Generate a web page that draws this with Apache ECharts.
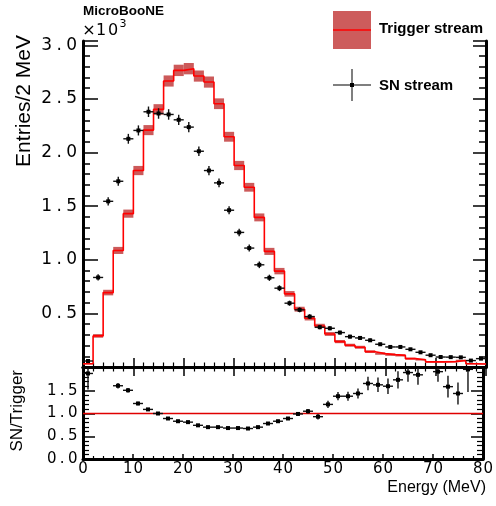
<!DOCTYPE html>
<html>
<head>
<meta charset="utf-8">
<script src="https://cdn.jsdelivr.net/npm/echarts@6/dist/echarts.min.js"></script>
<style>
  html, body { margin: 0; padding: 0; background: #fff; }
  #chart { width: 496px; height: 506px; }
</style>
</head>
<body>
<div id="chart"></div>
<script>
// 2 MeV bins, low edges
var binLow = [0, 2, 4, 6, 8, 10, 12, 14, 16, 18, 20, 22, 24, 26, 28, 30, 32, 34, 36, 38,
  40, 42, 44, 46, 48, 50, 52, 54, 56, 58, 60, 62, 64, 66, 68, 70, 72, 74, 76, 78];
var binWidth = 2;

var triggerCounts = [30, 290, 694, 1087, 1430, 1832, 2209, 2402, 2667, 2766, 2782, 2713, 2657, 2455, 2147, 1879, 1676, 1395, 1078, 894,
  682, 539, 455, 383, 308, 237, 203, 184, 143, 125, 115, 108, 78, 68, 48, 48, 50, 60, 30, 28];
var triggerErrors = [6, 17, 26, 33, 38, 43, 47, 49, 52, 53, 53, 52, 52, 50, 46, 43, 41, 37, 33, 30,
  26, 23, 21, 20, 18, 15, 14, 14, 12, 11, 11, 10, 9, 8, 7, 7, 7, 8, 6, 5];

var snCounts = [56, 835, 1545, 1732, 2128, 2206, 2380, 2364, 2355, 2305, 2237, 2012, 1832, 1717, 1462, 1255, 1109, 953, 832, 735,
  595, 533, 470, 371, 361, 321, 283, 271, 249, 212, 187, 187, 165, 137, 110, 93, 92, 90, 60, 78];
var snErrors = [7, 29, 39, 42, 46, 47, 49, 49, 49, 48, 47, 45, 43, 41, 38, 35, 33, 31, 29, 27,
  24, 23, 22, 19, 19, 18, 17, 16, 16, 15, 14, 14, 13, 12, 10, 10, 10, 9, 8, 9];

var ratio = [1.88, 2.88, 2.23, 1.61, 1.51, 1.22, 1.09, 1.00, 0.89, 0.83, 0.81, 0.74, 0.70, 0.70, 0.68, 0.68, 0.67, 0.70, 0.78, 0.83,
  0.89, 0.99, 1.05, 0.93, 1.20, 1.38, 1.38, 1.44, 1.66, 1.63, 1.60, 1.74, 1.90, 1.85, 2.35, 1.92, 1.59, 1.44, 1.97, 2.80];
var ratioErrors = [0.35, 0.12, 0.07, 0.06, 0.05, 0.04, 0.03, 0.03, 0.03, 0.03, 0.03, 0.03, 0.03, 0.03, 0.03, 0.03, 0.03, 0.03, 0.03, 0.03,
  0.03, 0.04, 0.05, 0.06, 0.08, 0.09, 0.10, 0.11, 0.15, 0.16, 0.17, 0.19, 0.20, 0.22, 0.30, 0.22, 0.24, 0.24, 0.50, 0.60];

// SN/Trigger = 1 reference line
var unityLine = [[0, 1], [80, 1]];

var monoFont = 'DejaVu Sans';
var sansFont = 'Liberation Sans, Arial, sans-serif';

function cells(s) {
  return s.split('').map(function (ch) { return '{c|' + ch + '}'; }).join('');
}

// histogram step line, band and point tables
var stepData = binLow.map(function (x, i) { return [x, triggerCounts[i]]; });
stepData.push([binLow[binLow.length - 1] + binWidth, triggerCounts[triggerCounts.length - 1]]);
var bandData = binLow.map(function (x, i) { return [x, x + binWidth, triggerCounts[i], triggerErrors[i]]; });
var snData = binLow.map(function (x, i) { return [x + binWidth / 2, snCounts[i], snErrors[i]]; });
var ratioData = binLow.map(function (x, i) { return [x + binWidth / 2, ratio[i], ratioErrors[i]]; });

function bandItem(params, api) {
  var p0 = api.coord([api.value(0), api.value(2) + api.value(3)]);
  var p1 = api.coord([api.value(1), api.value(2) - api.value(3)]);
  return {
    type: 'rect',
    shape: { x: p0[0], y: p0[1], width: p1[0] - p0[0], height: p1[1] - p0[1] },
    style: { fill: '#cc5a5a' }
  };
}

function crossItem(params, api) {
  var x = api.value(0), y = api.value(1), e = api.value(2);
  var c = api.coord([x, y]);
  var l = api.coord([x - binWidth / 2, y]);
  var r = api.coord([x + binWidth / 2, y]);
  var t = api.coord([x, y + e]);
  var b = api.coord([x, y - e]);
  var st = { stroke: '#111', lineWidth: 1.4 };
  return {
    type: 'group',
    children: [
      { type: 'line', shape: { x1: l[0], y1: c[1], x2: r[0], y2: c[1] }, style: st },
      { type: 'line', shape: { x1: c[0], y1: t[1], x2: c[0], y2: b[1] }, style: st },
      { type: 'rect', shape: { x: c[0] - 2, y: c[1] - 2, width: 4, height: 4 }, style: { fill: '#000' } }
    ]
  };
}

var frame = { show: true, lineStyle: { color: '#000', width: 3 } };
var noLine = { show: false };

function xAx(grid, pos, tickLen, minorLen, labels) {
  return {
    type: 'value', gridIndex: grid, position: pos, min: 0, max: 80, interval: 10,
    axisLine: frame,
    axisTick: { show: true, inside: true, length: tickLen, lineStyle: { color: '#000', width: 1.5 } },
    minorTick: { show: true, splitNumber: 5, length: minorLen, lineStyle: { color: '#000', width: 1.2 } },
    splitLine: { show: false },
    axisLabel: labels ? {
      show: true, margin: 3,
      formatter: function (v) { return cells(String(v)); },
      rich: { c: { width: 10.5, align: 'center', fontSize: 15, fontFamily: monoFont, color: '#000' } }
    } : { show: false }
  };
}

function yUpper(pos, interval, tickLen, labels, line) {
  return {
    type: 'value', gridIndex: 0, position: pos, min: 0, max: 3040, interval: interval,
    axisLine: line ? frame : noLine,
    axisTick: { show: true, inside: true, length: tickLen, lineStyle: { color: '#000', width: 1.5 } },
    splitLine: { show: false },
    axisLabel: labels ? {
      show: true, margin: 5,
      formatter: function (v) {
        if (v <= 0 || v > 3000 || v % 500 !== 0) return '';
        return cells((v / 1000).toFixed(1));
      },
      rich: { c: { width: 12.5, align: 'center', fontSize: 17, fontFamily: monoFont, color: '#000' } }
    } : { show: false }
  };
}

function yLower(pos, labels) {
  return {
    type: 'value', gridIndex: 1, position: pos, min: 0, max: 2, interval: 0.5,
    axisLine: frame,
    axisTick: { show: true, inside: true, length: 12, lineStyle: { color: '#000', width: 1.5 } },
    minorTick: { show: true, splitNumber: 5, length: 6, lineStyle: { color: '#000', width: 1.2 } },
    splitLine: { show: false },
    axisLabel: labels ? {
      show: true, margin: 5,
      formatter: function (v) { return v >= 2 ? '' : cells(v.toFixed(1)); },
      rich: { c: { width: 10.5, align: 'center', fontSize: 15, fontFamily: monoFont, color: '#000' } }
    } : { show: false }
  };
}

var chart = echarts.init(document.getElementById('chart'), null, { renderer: 'canvas' });

var chartSettings = {
  animation: false,
  backgroundColor: '#fff',
  grid: [
    { left: 83, right: 10, top: 41, height: 326 },
    { left: 83, right: 10, top: 368, height: 91 }
  ],
  xAxis: [
    xAx(0, 'bottom', 9, 4.5, false),
    xAx(0, 'top', 9, 4.5, false),
    xAx(1, 'bottom', 5, 3, true)
  ],
  yAxis: [
    yUpper('left', 500, 15, true, true),
    yUpper('left', 100, 7, false, false),
    yUpper('right', 500, 13, false, true),
    yUpper('right', 100, 7, false, false),
    yLower('left', true),
    yLower('right', false)
  ],
  series: [
    {
      name: 'Trigger stream band', type: 'custom', xAxisIndex: 0, yAxisIndex: 0,
      renderItem: bandItem, encode: { x: [0, 1], y: 2 }, data: bandData, z: 2
    },
    {
      name: 'Trigger stream', type: 'line', xAxisIndex: 0, yAxisIndex: 0, step: 'end',
      symbol: 'none', color: '#ff0000', lineStyle: { color: '#ff0000', width: 1.6 }, data: stepData, z: 3
    },
    {
      name: 'SN stream', type: 'custom', xAxisIndex: 0, yAxisIndex: 0,
      renderItem: crossItem, encode: { x: 0, y: 1 }, data: snData, z: 4
    },
    {
      name: 'Unity', type: 'line', xAxisIndex: 2, yAxisIndex: 4, symbol: 'none', silent: true,
      color: '#e00000', itemStyle: { color: '#e00000' },
      lineStyle: { color: '#e00000', width: 1.3, opacity: 1 }, data: unityLine, z: 3
    },
    {
      name: 'SN/Trigger', type: 'custom', xAxisIndex: 2, yAxisIndex: 4, clip: true,
      renderItem: crossItem, encode: { x: 0, y: 1 }, data: ratioData, z: 4
    }
  ],
  graphic: [
    { type: 'text', left: 83, top: 4, style: { text: 'MicroBooNE', font: 'bold 13.5px ' + sansFont, fill: '#000' } },
    {
      type: 'text', x: 83, y: 31,
      style: {
        text: cells('×10'), textVerticalAlign: 'middle', fill: '#000',
        rich: { c: { width: 12, align: 'center', fontSize: 16, fontFamily: monoFont, color: '#000' } }
      }
    },
    { type: 'text', x: 123, y: 24, style: { text: '3', textAlign: 'center', textVerticalAlign: 'middle', font: '11px ' + monoFont, fill: '#000' } },
    {
      type: 'text', x: 24, y: 35, rotation: Math.PI / 2,
      style: { text: 'Entries/2 MeV', textAlign: 'right', textVerticalAlign: 'middle', font: '21px ' + sansFont, fill: '#000' }
    },
    {
      type: 'text', x: 17, y: 370, rotation: Math.PI / 2,
      style: { text: 'SN/Trigger', textAlign: 'right', textVerticalAlign: 'middle', font: '17px ' + sansFont, fill: '#000' }
    },
    {
      type: 'text', x: 486, y: 488,
      style: { text: 'Energy (MeV)', textAlign: 'right', textVerticalAlign: 'middle', font: '16px ' + sansFont, fill: '#000' }
    },
    // legend
    { type: 'rect', shape: { x: 333, y: 11, width: 38, height: 38 }, style: { fill: '#cd5c5c' } },
    { type: 'line', shape: { x1: 333, y1: 30, x2: 371, y2: 30 }, style: { stroke: '#ff0000', lineWidth: 1.5 } },
    { type: 'text', x: 379, y: 29, style: { text: 'Trigger stream', textVerticalAlign: 'middle', font: 'bold 15px ' + sansFont, fill: '#000' } },
    { type: 'line', shape: { x1: 333, y1: 85, x2: 371, y2: 85 }, style: { stroke: '#555', lineWidth: 1.5 } },
    { type: 'line', shape: { x1: 352, y1: 69, x2: 352, y2: 101 }, style: { stroke: '#555', lineWidth: 1.5 } },
    { type: 'rect', shape: { x: 350, y: 83, width: 4, height: 4 }, style: { fill: '#000' } },
    { type: 'text', x: 379, y: 86, style: { text: 'SN stream', textVerticalAlign: 'middle', font: 'bold 15px ' + sansFont, fill: '#000' } }
  ]
};
chart.setOption(chartSettings);
</script>
</body>
</html>
